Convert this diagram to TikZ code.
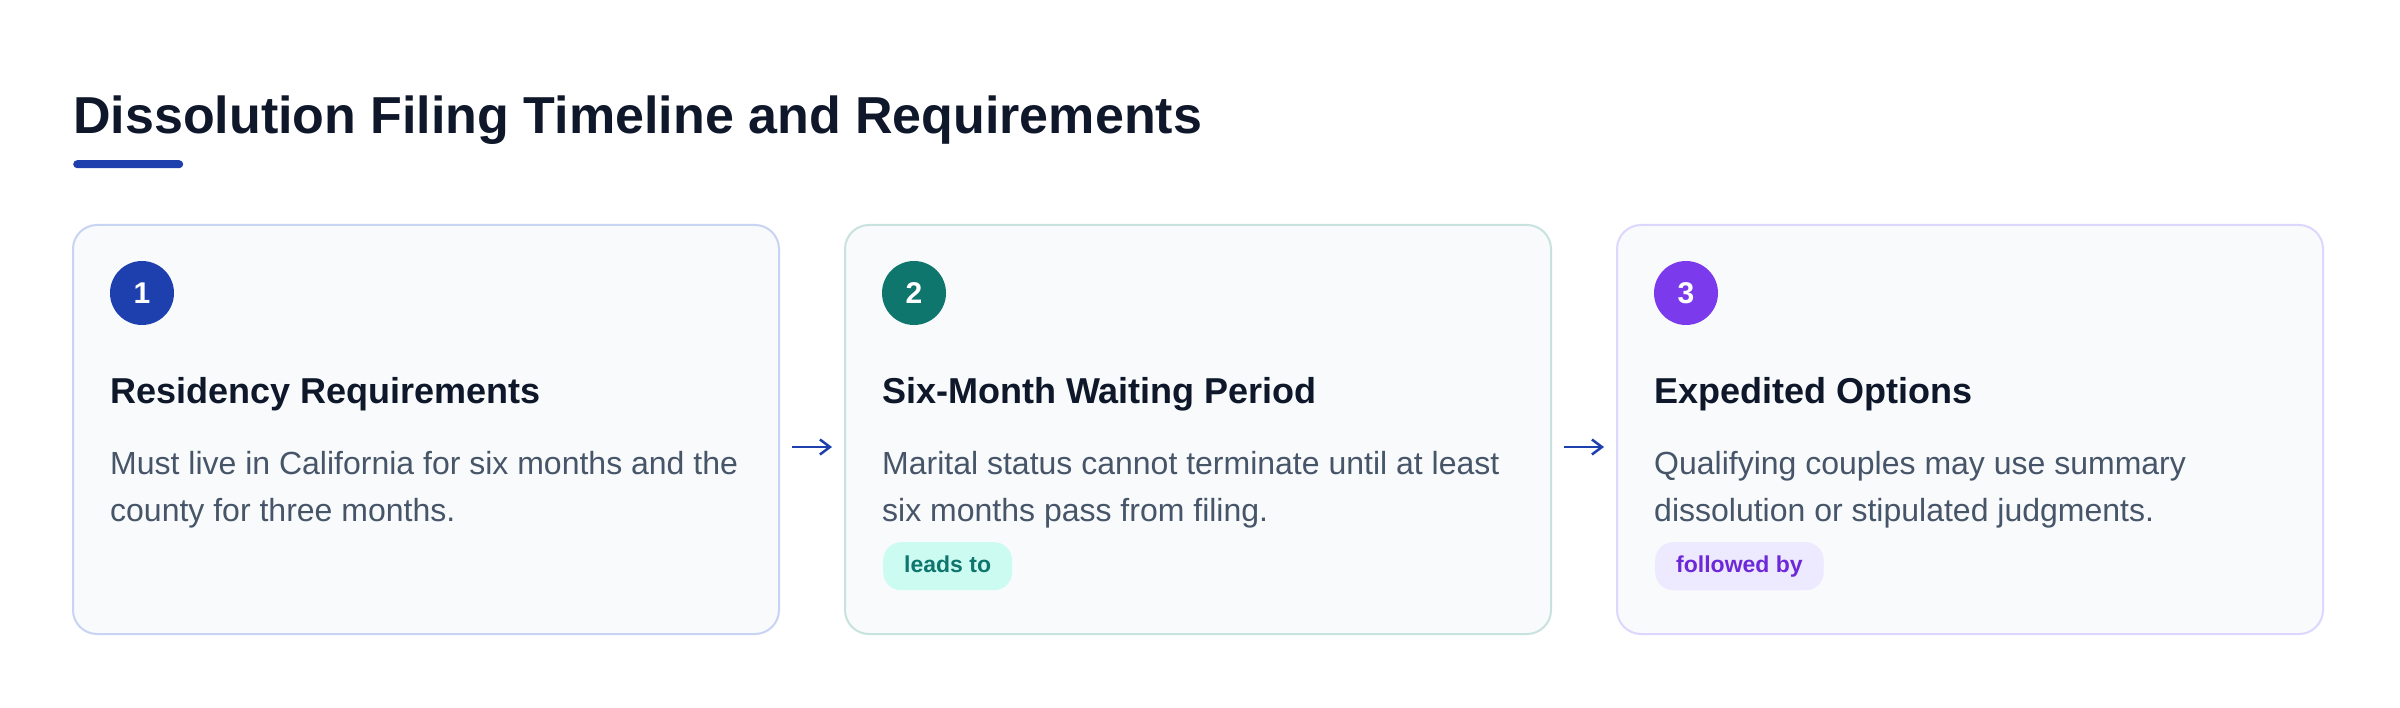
\documentclass[tikz,border=0pt]{standalone}
\usepackage{fontspec}
\setmainfont{Liberation Sans}
\usetikzlibrary{positioning}
\usetikzlibrary{arrows.meta}

\definecolor{ink}{HTML}{0F172A}
\definecolor{slate}{HTML}{475569}
\definecolor{navy}{HTML}{1E40AF}
\definecolor{teal}{HTML}{0F766E}
\definecolor{violet}{HTML}{7C3AED}
\definecolor{cardbg}{HTML}{F8FAFC}
\definecolor{edgeA}{HTML}{C9D3F3}
\definecolor{edgeB}{HTML}{C8E2DD}
\definecolor{edgeC}{HTML}{DDD6FE}
\definecolor{tagB}{HTML}{CCFBF1}
\definecolor{tagC}{HTML}{EDE9FE}
\definecolor{tagCtext}{HTML}{6D28D9}

\begin{document}
\begin{tikzpicture}[x=1pt,y=-1pt,>={Straight Barb[length=10pt,width=15pt,line width=2.5pt]},
  card/.style={draw,line width=2pt,fill=cardbg,rounded corners=24pt,
    minimum width=706pt,minimum height=409pt,inner sep=0pt,outer sep=0pt},
  num/.style={circle,minimum size=64pt,inner sep=0pt,text=white,
    font=\fontsize{30}{30}\selectfont\bfseries},
  head/.style={anchor=base west,inner sep=0pt,text=ink,
    font=\fontsize{36}{36}\selectfont\bfseries},
  body/.style={anchor=base west,inner sep=0pt,text=slate,
    font=\fontsize{32}{32}\selectfont},
  tag/.style={anchor=north west,rounded corners=18pt,inner xsep=21pt,inner ysep=0pt,
    minimum height=48pt,text height=17pt,text depth=5pt,
    font=\fontsize{23}{23}\selectfont\bfseries},
  flow/.style={->,draw=navy,line width=2pt,shorten <=13pt,shorten >=13pt}]

  \fill[white] (0,0) rectangle (2400,708);
  \useasboundingbox (0,0) rectangle (2400,708);

  % heading
  \node[anchor=base west,inner sep=0pt,text=ink,font=\fontsize{52}{52}\selectfont\bfseries]
    (title) at (73,134) {Dissolution Filing Timeline and Requirements};
  \node[anchor=north west,fill=navy,rounded corners=4pt,minimum width=110pt,
    minimum height=8pt,inner sep=0pt] (bar) at (73,160) {};

  % cards
  \node[card,draw=edgeA,anchor=north west] (c1) at (73,225) {};
  \node[card,draw=edgeB]  (c2)  [right=66pt of c1] {};
  \node[card,draw=edgeC]  (c3)  [right=66pt of c2] {};

  % step 1
  \node[num,fill=navy]   (n1) at ([xshift=69pt,yshift=-68pt]c1.north west) {1};
  \node[head]            (h1) at ([xshift=37pt,yshift=-178pt]c1.north west) {Residency Requirements};
  \node[body]            (t1) at ([xshift=37pt,yshift=-249pt]c1.north west) {Must live in California for six months and the};
  \node[body]            (u1) at ([yshift=-47pt]t1.base west) {county for three months.};

  % step 2
  \node[num,fill=teal]   (n2) at ([xshift=69pt,yshift=-68pt]c2.north west) {2};
  \node[head]            (h2) at ([xshift=37pt,yshift=-178pt]c2.north west) {Six-Month Waiting Period};
  \node[body]            (t2) at ([xshift=37pt,yshift=-249pt]c2.north west) {Marital status cannot terminate until at least};
  \node[body]            (u2) at ([yshift=-47pt]t2.base west) {six months pass from filing.};
  \node[tag,fill=tagB,text=teal] (g2) at ([xshift=38pt,yshift=-317pt]c2.north west) {leads to};

  % step 3
  \node[num,fill=violet] (n3) at ([xshift=69pt,yshift=-68pt]c3.north west) {3};
  \node[head]            (h3) at ([xshift=37pt,yshift=-178pt]c3.north west) {Expedited Options};
  \node[body]            (t3) at ([xshift=37pt,yshift=-249pt]c3.north west) {Qualifying couples may use summary};
  \node[body]            (u3) at ([yshift=-47pt]t3.base west) {dissolution or stipulated judgments.};
  \node[tag,fill=tagC,text=tagCtext] (g3) at ([xshift=38pt,yshift=-317pt]c3.north west) {followed by};

  \draw[flow] ([yshift=-17.5pt]c1.east) -- ([yshift=-17.5pt]c2.west);
  \draw[flow] ([yshift=-17.5pt]c2.east) -- ([yshift=-17.5pt]c3.west);
\end{tikzpicture}
\end{document}
